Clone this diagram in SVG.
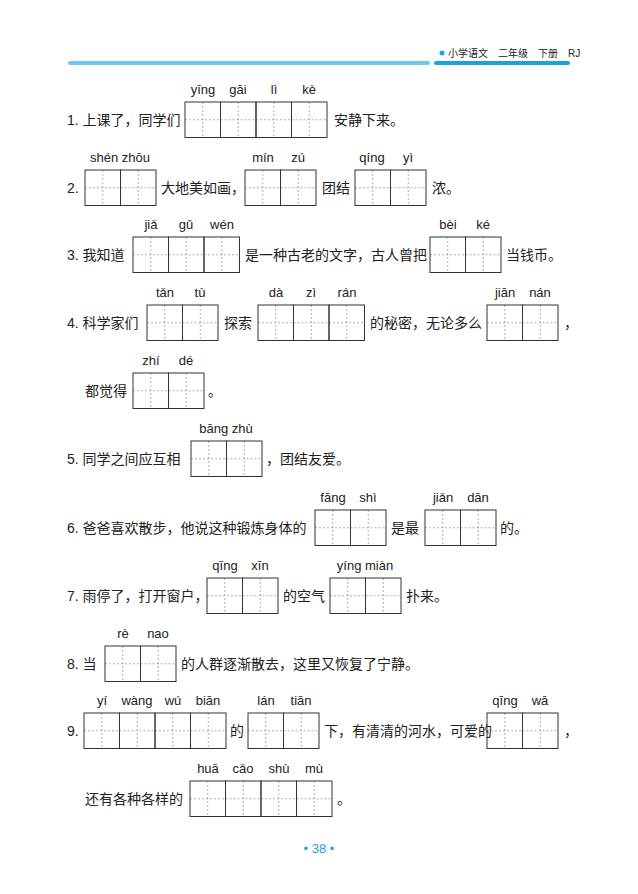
<svg xmlns="http://www.w3.org/2000/svg" xmlns:xlink="http://www.w3.org/1999/xlink" width="638" height="894" viewBox="0 0 638 894">
<style>
text{font-family:"Liberation Sans","Noto Sans CJK SC",sans-serif;fill:#222}
.t{font-size:14px}
.p{font-size:13px;text-anchor:middle}
.o{fill:none;stroke:#333;stroke-width:1}
.d{stroke:#999;stroke-width:0.8;stroke-dasharray:2 2}
</style>
<defs>
<g id="c"><line class="d" x1="17.75" y1="0" x2="17.75" y2="35.5"/><line class="d" x1="0" y1="17.75" x2="35.5" y2="17.75"/><rect class="o" width="35.5" height="35.5"/></g>
</defs>
<rect width="638" height="894" fill="#fff"/>
<g id="header">
<line x1="70" y1="63" x2="428" y2="63" stroke="#6cc8ef" stroke-width="4" stroke-linecap="round"/>
<line x1="436" y1="63" x2="568" y2="63" stroke="#1ba1dc" stroke-width="4" stroke-linecap="round"/>
<circle cx="442" cy="53" r="2.5" fill="#1ba1dc"/>
<text x="448" y="57" style="font-size:10px">小学语文　二年级　下册　RJ</text>
</g>
<g id="q1">
<text class="t" x="67" y="125">1. 上课了，同学们</text>
<text class="p" x="203" y="94">yīng</text><text class="p" x="238" y="94">gāi</text><text class="p" x="274" y="94">lì</text><text class="p" x="309" y="94">kè</text>
<use href="#c" x="185" y="102"/><use href="#c" x="220.5" y="102"/><use href="#c" x="256" y="102"/><use href="#c" x="291.5" y="102"/>
<text class="t" x="334" y="125">安静下来。</text>
</g>
<g id="q2">
<text class="t" x="67" y="193">2.</text>
<text class="p" x="120" y="162">shén zhōu</text>
<use href="#c" x="85" y="170"/><use href="#c" x="120.5" y="170"/>
<text class="t" x="161" y="193">大地美如画，</text>
<text class="p" x="263" y="162">mín</text><text class="p" x="298" y="162">zú</text>
<use href="#c" x="245" y="170"/><use href="#c" x="280.5" y="170"/>
<text class="t" x="322" y="193">团结</text>
<text class="p" x="372" y="162">qíng</text><text class="p" x="408" y="162">yì</text>
<use href="#c" x="355" y="170"/><use href="#c" x="390.5" y="170"/>
<text class="t" x="432" y="193">浓。</text>
</g>
<g id="q3">
<text class="t" x="67" y="260">3. 我知道</text>
<text class="p" x="151" y="229">jiǎ</text><text class="p" x="186" y="229">gǔ</text><text class="p" x="222" y="229">wén</text>
<use href="#c" x="133" y="237"/><use href="#c" x="168.5" y="237"/><use href="#c" x="204" y="237"/>
<text class="t" x="245" y="260">是一种古老的文字，古人曾把</text>
<text class="p" x="448" y="229">bèi</text><text class="p" x="483" y="229">ké</text>
<use href="#c" x="430" y="237"/><use href="#c" x="465.5" y="237"/>
<text class="t" x="506" y="260">当钱币。</text>
</g>
<g id="q4">
<text class="t" x="67" y="328">4. 科学家们</text>
<text class="p" x="165" y="297">tǎn</text><text class="p" x="200" y="297">tù</text>
<use href="#c" x="147" y="305"/><use href="#c" x="182.5" y="305"/>
<text class="t" x="224" y="328">探索</text>
<text class="p" x="276" y="297">dà</text><text class="p" x="311" y="297">zì</text><text class="p" x="347" y="297">rán</text>
<use href="#c" x="258" y="305"/><use href="#c" x="293.5" y="305"/><use href="#c" x="329" y="305"/>
<text class="t" x="370" y="328">的秘密，无论多么</text>
<text class="p" x="505" y="297">jiān</text><text class="p" x="540" y="297">nán</text>
<use href="#c" x="487" y="305"/><use href="#c" x="522.5" y="305"/>
<text class="t" x="564" y="328">，</text>
<text class="t" x="85" y="396">都觉得</text>
<text class="p" x="151" y="365">zhí</text><text class="p" x="186" y="365">dé</text>
<use href="#c" x="133" y="373"/><use href="#c" x="168.5" y="373"/>
<text class="t" x="208" y="396">。</text>
</g>
<g id="q5">
<text class="t" x="67" y="464">5. 同学之间应互相</text>
<text class="p" x="226" y="433">bāng zhù</text>
<use href="#c" x="191" y="441"/><use href="#c" x="226.5" y="441"/>
<text class="t" x="266" y="464">，团结友爱。</text>
</g>
<g id="q6">
<text class="t" x="67" y="533">6. 爸爸喜欢散步，他说这种锻炼身体的</text>
<text class="p" x="333" y="502">fāng</text><text class="p" x="368" y="502">shì</text>
<use href="#c" x="315" y="510"/><use href="#c" x="350.5" y="510"/>
<text class="t" x="391" y="533">是最</text>
<text class="p" x="443" y="502">jiǎn</text><text class="p" x="478" y="502">dān</text>
<use href="#c" x="425" y="510"/><use href="#c" x="460.5" y="510"/>
<text class="t" x="500" y="533">的。</text>
</g>
<g id="q7">
<text class="t" x="67" y="601">7. 雨停了，打开窗户，</text>
<text class="p" x="225" y="570">qīng</text><text class="p" x="260" y="570">xīn</text>
<use href="#c" x="207" y="578"/><use href="#c" x="242.5" y="578"/>
<text class="t" x="283" y="601">的空气</text>
<text class="p" x="365" y="570">yíng miàn</text>
<use href="#c" x="330" y="578"/><use href="#c" x="365.5" y="578"/>
<text class="t" x="406" y="601">扑来。</text>
</g>
<g id="q8">
<text class="t" x="67" y="669">8. 当</text>
<text class="p" x="123" y="638">rè</text><text class="p" x="158" y="638">nao</text>
<use href="#c" x="105" y="646"/><use href="#c" x="140.5" y="646"/>
<text class="t" x="181" y="669">的人群逐渐散去，这里又恢复了宁静。</text>
</g>
<g id="q9">
<text class="t" x="67" y="736">9.</text>
<text class="p" x="102" y="705">yí</text><text class="p" x="137" y="705">wàng</text><text class="p" x="173" y="705">wú</text><text class="p" x="208" y="705">biān</text>
<use href="#c" x="84" y="713"/><use href="#c" x="119.5" y="713"/><use href="#c" x="155" y="713"/><use href="#c" x="190.5" y="713"/>
<text class="t" x="230" y="736">的</text>
<text class="p" x="266" y="705">lán</text><text class="p" x="301" y="705">tiān</text>
<use href="#c" x="248" y="713"/><use href="#c" x="283.5" y="713"/>
<text class="t" x="324" y="736">下，有清清的河水，可爱的</text>
<text class="p" x="505" y="705">qīng</text><text class="p" x="540" y="705">wā</text>
<use href="#c" x="487" y="713"/><use href="#c" x="522.5" y="713"/>
<text class="t" x="564" y="736">，</text>
<text class="t" x="85" y="804">还有各种各样的</text>
<text class="p" x="208" y="773">huā</text><text class="p" x="243" y="773">cǎo</text><text class="p" x="279" y="773">shù</text><text class="p" x="314" y="773">mù</text>
<use href="#c" x="190" y="781"/><use href="#c" x="225.5" y="781"/><use href="#c" x="261" y="781"/><use href="#c" x="296.5" y="781"/>
<text class="t" x="337" y="804">。</text>
</g>
<g id="footer">
<text x="319" y="853" style="font-size:13px;text-anchor:middle;fill:#1ba1dc">• 38 •</text>
</g>
</svg>
